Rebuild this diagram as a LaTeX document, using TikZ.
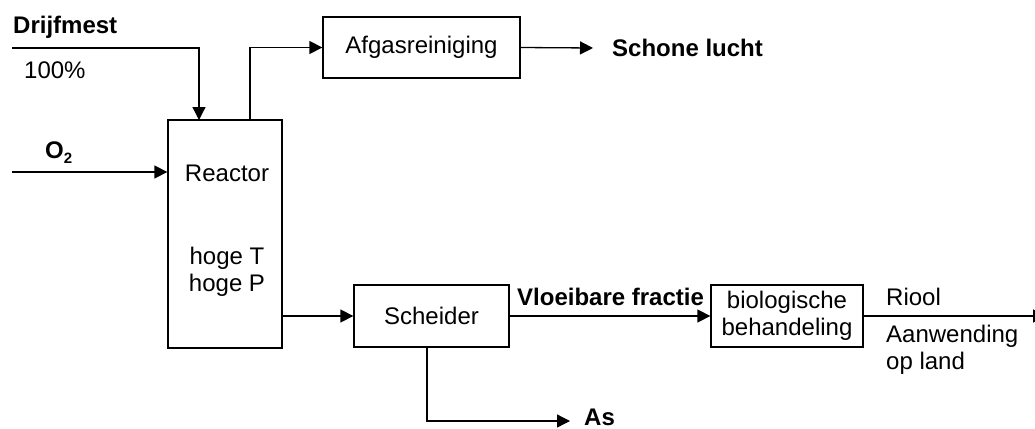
\documentclass[tikz,border=0pt]{standalone}
\usepackage{fontspec}
\setmainfont{Liberation Sans}
\usetikzlibrary{arrows.meta}
\begin{document}
\begin{tikzpicture}[x=1pt,y=-1pt,
  box/.style={draw,line width=1.3pt,inner sep=0pt,align=center},
  lbl/.style={inner sep=0pt,align=left},
  conn/.style={line width=1.3pt},
  arr/.style={conn,-{Triangle[length=13pt,width=13pt]}},
  every node/.style={font=\fontsize{24}{27}\selectfont}]
\useasboundingbox (0,0) rectangle (1035,428);
% boxes
\node[box,minimum width=114pt,minimum height=228pt] (reactor) at (225,234) {};
\node[inner sep=0pt] (reactortxt) at (227,173) {Reactor};
\node[inner sep=0pt,align=center] (cond) at (227,272) {hoge T\\hoge P};
\node[box,minimum width=197pt,minimum height=61pt] (afg) at (421.5,47.5) {Afgasreiniging};
\node[box,minimum width=155pt,minimum height=62pt] (sch) at (431.5,316) {Scheider};
\node[box,minimum width=152pt,minimum height=62pt] (bio) at (787,316) {biologische\\behandeling};
% labels
\node[lbl,anchor=west,font=\fontsize{24}{27}\selectfont\bfseries] (drijf) at (13,27) {Drijfmest};
\node[lbl,anchor=west] (pct) at (24,70) {100\%};
\node[lbl,anchor=west,font=\fontsize{24}{27}\selectfont\bfseries] (o2) at (45,153) {O\raisebox{-5pt}{\fontsize{15}{15}\selectfont 2}};
\node[lbl,anchor=west,font=\fontsize{24}{27}\selectfont\bfseries] (schone) at (612,48) {Schone lucht};
\node[lbl,anchor=west,font=\fontsize{24}{27}\selectfont\bfseries] (vloei) at (517,297) {Vloeibare fractie};
\node[lbl,anchor=west] (riool) at (886,297) {Riool};
\node[lbl,anchor=north west] (aanw) at (886,325) {Aanwending\\op land};
\node[lbl,anchor=base west,font=\fontsize{24}{27}\selectfont\bfseries] (as) at (584,425) {As};
% coordinates
\coordinate (dstart) at (12,48);
\coordinate (dtop) at (199,120);
\coordinate (gtop) at (250,120);
\coordinate (ostart) at (12,172);
\coordinate (schoneend) at (593,48);
\coordinate (asend) at (570,421);
\coordinate (sbot) at (427,347);
\coordinate (rout) at (282,316);
\coordinate (rightend) at (1046,316);
% connectors
\draw[arr] (dstart) -| (dtop);
\draw[arr] (gtop) |- (afg.west);
\draw[arr] (ostart) -- (reactor.west |- ostart);
\draw[arr] (afg.east) -- (schoneend);
\draw[arr] (rout) -- (sch.west);
\draw[arr] (sch.east) -- (bio.west);
\draw[arr] (sbot) |- (asend);
\draw[arr] (bio.east) -- (rightend);
\end{tikzpicture}
\end{document}
